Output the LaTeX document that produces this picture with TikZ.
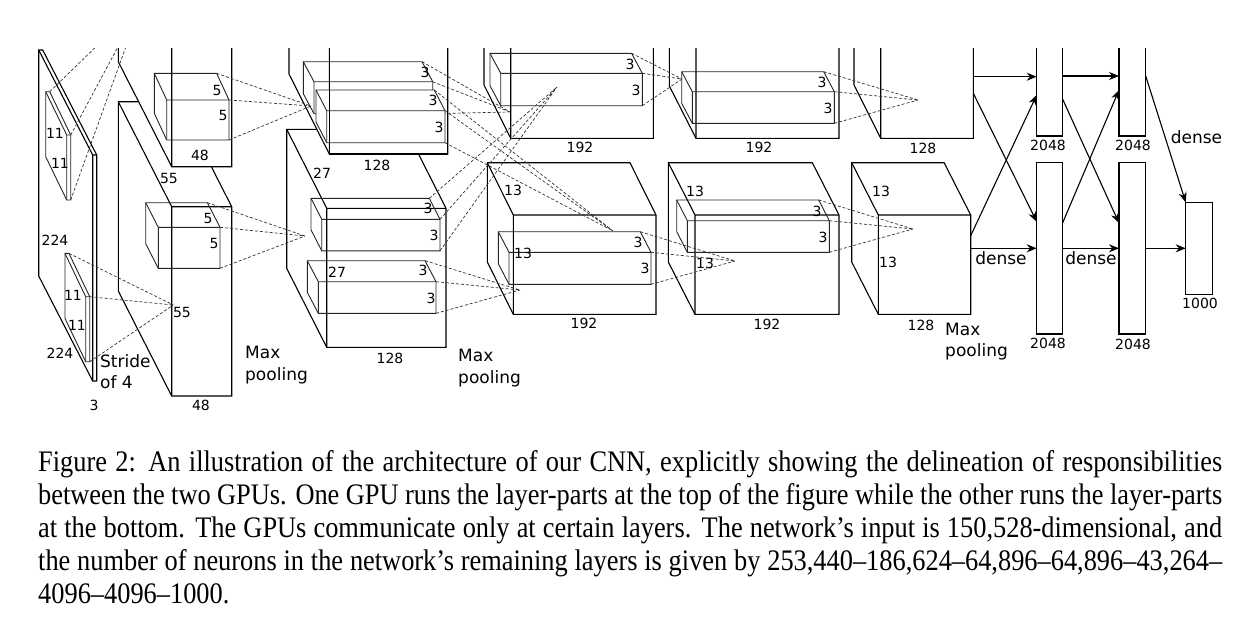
\documentclass[tikz,border=0pt]{standalone}
\usepackage{fontspec}
\setmainfont{Liberation Serif}[FakeStretch=0.885]
\newfontfamily\labfont{DejaVu Sans}
\usetikzlibrary{arrows.meta}
\tikzset{
 box/.style={line width=1.1pt, fill=white, line join=miter},
 kbox/.style={line width=0.9pt, draw=black!85},
 kboxf/.style={line width=0.9pt, draw=black!85, fill=white},
 dsh/.style={line width=0.7pt, black!80, dash pattern=on 3pt off 2pt},
 arr/.style={line width=1.1pt, -{Stealth[length=10pt,width=8pt]}},
 num/.style={font=\labfont\fontsize{14}{16}\selectfont, inner sep=0pt},
 wrd/.style={font=\labfont\fontsize{17}{20}\selectfont, inner sep=0pt, anchor=base west},
 wrdc/.style={font=\labfont\fontsize{17}{20}\selectfont, inner sep=0pt, anchor=base},
 fc/.style={line width=1.1pt},
 captext/.style={font=\fontsize{29.8}{33}\selectfont, inner sep=0pt, anchor=base west},
}
% #1 opts, #2 name, #3 x, #4 y (front top-left), #5 w, #6 h, #7 dx, #8 dy (back offset)
\newcommand\cuboidx[8][]{%
 \draw[#1] ({#3-#7},{#4-#8}) -- ({#3+#5-#7},{#4-#8}) -- ({#3+#5},{#4}) -- ({#3+#5},{#4+#6}) -- ({#3},{#4+#6}) -- ({#3-#7},{#4+#6-#8}) -- cycle;
 \draw[#1,fill=none] ({#3-#7},{#4-#8}) -- ({#3},{#4}) -- ({#3+#5},{#4}) ({#3},{#4}) -- ({#3},{#4+#6});
 \coordinate (#2-btr) at ({#3+#5-#7},{#4-#8});
 \coordinate (#2-ftr) at ({#3+#5},{#4});
 \coordinate (#2-fbr) at ({#3+#5},{#4+#6});
}
\newcommand\kfan[2]{\draw[dsh] (#1-btr) -- (#2) (#1-ftr) -- (#2) (#1-fbr) -- (#2);}
\begin{document}
\begin{tikzpicture}[x=1pt,y=-1pt]
\useasboundingbox (0,0) rectangle (1250,622);
\begin{scope}
\clip (0,48) rectangle (1250,425);
% big boxes
\cuboidx[box]{in}{92.7}{155}{4}{226}{54}{105}
\cuboidx[box]{c1l}{171.7}{206.7}{60}{189.3}{53.4}{105}
\cuboidx[box]{c1u}{171.7}{-22.6}{60}{189.3}{53.4}{105}
\cuboidx[box]{c2l}{326.7}{208.3}{119.3}{139}{40}{79}
\cuboidx[box]{c2u}{329.3}{15}{118.4}{139}{40.3}{80}
\cuboidx[box]{c3l}{513.3}{215}{142.7}{99.3}{26}{52.3}
\cuboidx[box]{c3u}{510.7}{39}{142.6}{99.3}{26.7}{53.3}
\cuboidx[box]{c4l}{695}{215}{144}{99.3}{26.7}{52.3}
\cuboidx[box]{c4u}{696}{39}{143}{99.3}{26.7}{52.3}
\cuboidx[box]{c5l}{878.3}{215}{92.4}{99.3}{26.6}{52.3}
\cuboidx[box]{c5u}{880.7}{39}{92.6}{99.3}{26.7}{53.3}
% convergence points
\coordinate (p0) at (142,2);
\coordinate (p1) at (173.3,305);
\coordinate (p2) at (311,106);
\coordinate (p3) at (305,236);
\coordinate (pA) at (510,112);
\coordinate (pB) at (613,231);
\coordinate (pC) at (557,87);
\coordinate (pD) at (520,290);
\coordinate (pE) at (682,79);
\coordinate (pF) at (735,261);
\coordinate (pG) at (918,100);
\coordinate (pH) at (913,229);
% kernels
\cuboidx[kbox]{kin1}{66.7}{135}{4}{65}{21}{43.3}
\cuboidx[kbox]{kin2}{85.7}{296.7}{4}{65}{20.7}{43.3}
\cuboidx[kbox]{k1u}{166.7}{100}{62.3}{40}{12.4}{26.7}
\cuboidx[kbox]{k1l}{158.3}{227.3}{61.7}{41}{12.6}{24.6}
\cuboidx[kbox]{kA}{314}{81.7}{118.7}{32}{10.7}{20}
\kfan{kA}{pA}
\cuboidx[kboxf]{kB}{326.7}{110.7}{118.3}{32}{10.7}{20.7}
\draw[box,fill=none] (329.3,15) rectangle (447.7,154);
\cuboidx[kbox]{kC}{321.7}{219.3}{118.3}{31.5}{10.7}{21}
\cuboidx[kbox]{kD}{318.3}{281.7}{117.7}{31.6}{11}{21}
\cuboidx[kbox]{kE}{500.7}{73.3}{141.6}{32.4}{10.7}{20}
\cuboidx[kbox]{kF}{509}{252.3}{142}{32}{10.7}{20.6}
\cuboidx[kbox]{kG}{692.3}{91.7}{142}{31.6}{10.6}{20}
\cuboidx[kbox]{kH}{687.3}{220.7}{142}{31.6}{10.6}{20.7}
% fans
\kfan{kin1}{p0}
\kfan{kin2}{p1}
\kfan{k1u}{p2}
\kfan{k1l}{p3}
\kfan{kB}{pB}
\kfan{kC}{pC}
\kfan{kD}{pD}
\kfan{kE}{pE}
\kfan{kF}{pF}
\kfan{kG}{pG}
\kfan{kH}{pH}
% dense layers
\draw[fc] (1036.7,-10) rectangle (1062.7,136);
\draw[fc] (1036.7,162.7) rectangle (1062.7,334);
\draw[fc] (1119,-10) rectangle (1145.7,136);
\draw[fc] (1119,162.7) rectangle (1145.7,334);
\draw[fc] (1185.7,202.3) rectangle (1212.3,294.3);
\coordinate (a1s) at (973.3,76.7);   \coordinate (a1e) at (1036.7,76.7);
\coordinate (a2s) at (973.3,93.3);   \coordinate (a2e) at (1036.7,221.7);
\coordinate (a3s) at (970.7,235.7);  \coordinate (a3e) at (1036.7,95);
\coordinate (a4s) at (970.7,248.3);  \coordinate (a4e) at (1036.7,248.3);
\coordinate (a5s) at (1062.7,76);    \coordinate (a5e) at (1119,76);
\coordinate (a6s) at (1062.7,99.3);  \coordinate (a6e) at (1119,223);
\coordinate (a7s) at (1062.7,222.7); \coordinate (a7e) at (1119,90);
\coordinate (a8s) at (1062.7,248.3); \coordinate (a8e) at (1119,248.3);
\coordinate (a9s) at (1145.7,76);    \coordinate (a9e) at (1185.7,202.3);
\coordinate (a10s) at (1145.7,248.3);\coordinate (a10e) at (1185.7,248.3);
\foreach \i in {1,...,10} {\draw[arr] (a\i s) -- (a\i e);}
\end{scope}
% labels
\node[num] (l1) at (55,240) {224};
\node[num] (l2) at (60,353) {224};
\node[num] (l3) at (94,405) {3};
\node[num] (l4) at (55,133) {11};
\node[num] (l5) at (60,163) {11};
\node[num] (l6) at (73,295) {11};
\node[num] (l7) at (77,325) {11};
\node[wrd] (s1) at (100,367) {Stride};
\node[wrd] (s2) at (100,388) {of 4};
\node[num] (l8) at (169,178) {55};
\node[num] (l9) at (200,155) {48};
\node[num] (l10) at (182,312) {55};
\node[num] (l11) at (201,405) {48};
\node[num] (l12) at (217,90) {5};
\node[num] (l13) at (223,115) {5};
\node[num] (l14) at (208,218) {5};
\node[num] (l15) at (214,243) {5};
\node[wrd] (m1) at (245,358) {Max};
\node[wrd] (m2) at (245,380) {pooling};
\node[num] (l16) at (322,173) {27};
\node[num] (l17) at (377,165) {128};
\node[num] (l18) at (425,72) {3};
\node[num] (l19) at (433,100) {3};
\node[num] (l20) at (439,127) {3};
\node[num] (l21) at (428,208) {3};
\node[num] (l22) at (434,235) {3};
\node[num] (l23) at (423,270) {3};
\node[num] (l24) at (431,298) {3};
\node[num] (l25) at (337,272) {27};
\node[num] (l26) at (390,358) {128};
\node[wrd] (m3) at (458,361) {Max};
\node[wrd] (m4) at (458,383) {pooling};
\node[num] (l27) at (580,147) {192};
\node[num] (l28) at (630,64) {3};
\node[num] (l29) at (636,90) {3};
\node[num] (l30) at (513,190) {13};
\node[num] (l31) at (523,253) {13};
\node[num] (l32) at (638,242) {3};
\node[num] (l33) at (645,268) {3};
\node[num] (l34) at (584,323) {192};
\node[num] (l35) at (759,147) {192};
\node[num] (l36) at (822,82) {3};
\node[num] (l37) at (828,108) {3};
\node[num] (l38) at (695,191) {13};
\node[num] (l39) at (817,211) {3};
\node[num] (l40) at (823,237) {3};
\node[num] (l41) at (705,263) {13};
\node[num] (l42) at (767,324) {192};
\node[num] (l43) at (923,148) {128};
\node[num] (l44) at (881,191) {13};
\node[num] (l45) at (888,262) {13};
\node[num] (l46) at (921,325) {128};
\node[wrd] (m5) at (945,335) {Max};
\node[wrd] (m6) at (945,356) {pooling};
\node[wrdc] (d1) at (1001,264) {dense};
\node[num] (l47) at (1048,145) {2048};
\node[num] (l48) at (1048,343) {2048};
\node[wrdc] (d2) at (1091,264) {dense};
\node[num] (l49) at (1133,145) {2048};
\node[num] (l50) at (1133,344) {2048};
\node[wrdc] (d3) at (1196.5,143.3) {dense};
\node[num] (l51) at (1200,303) {1000};
% caption
\node[captext] (c1) at (38,471) {\makebox[1184pt][s]{Figure 2: An illustration of the architecture of our CNN, explicitly showing the delineation of responsibilities}};
\node[captext] (c2) at (38,504) {\makebox[1184pt][s]{between the two GPUs. One GPU runs the layer-parts at the top of the figure while the other runs the layer-parts}};
\node[captext] (c3) at (38,537) {\makebox[1184pt][s]{at the bottom. The GPUs communicate only at certain layers. The network’s input is 150,528-dimensional, and}};
\node[captext] (c4) at (38,570) {\makebox[1184pt][s]{the number of neurons in the network’s remaining layers is given by 253,440–186,624–64,896–64,896–43,264–}};
\node[captext] (c5) at (38,603) {4096–4096–1000.};
\end{tikzpicture}
\end{document}
